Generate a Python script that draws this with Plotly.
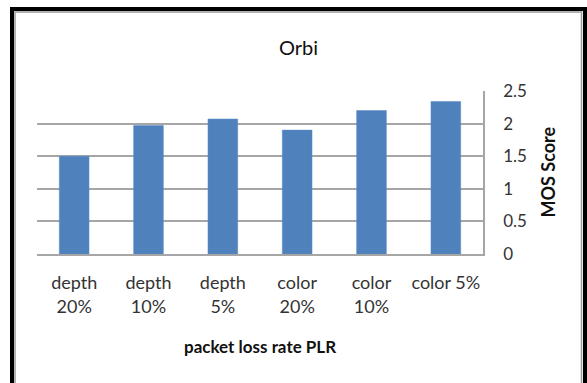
import plotly.graph_objects as go

# MOS score per packet-loss condition
categories = ["depth<br>20%", "depth<br>10%", "depth<br>5%", "color<br>20%", "color<br>10%", "color 5%"]
mos_scores = [1.50, 1.97, 2.07, 1.90, 2.20, 2.34]
y_ticks = [0, 0.5, 1, 1.5, 2, 2.5]
y_tick_labels = ["0", "0.5", "1", "1.5", "2", "2.5"]

W, H = 587, 383
L, R, T, B = 37, 483, 91, 254  # plot area in pixels

FONT = "Lato, Carlito, Calibri, sans-serif"
GRID = "#A6A6A6"
BAR = "#4F81BD"


def px(x):
    return (x - L) / (R - L)


def py(y):
    return (B - y) / (B - T)


fig = go.Figure(
    go.Bar(
        x=categories,
        y=mos_scores,
        marker=dict(color=BAR, line=dict(color="#5B8CC6", width=0.5)),
        width=0.4,
    )
)

fig.update_layout(
    width=W,
    height=H,
    margin=dict(l=L, r=W - R, t=T, b=H - B),
    paper_bgcolor="white",
    plot_bgcolor="white",
    showlegend=False,
    font=dict(family=FONT, color="#262626"),
    bargap=0.6,
)

fig.update_xaxes(
    type="category",
    showgrid=False,
    showline=True,
    linecolor=GRID,
    linewidth=1.5,
    ticks="",
    tickfont=dict(size=18, color="#333333"),
    ticklabelstandoff=12,
    fixedrange=True,
)

fig.update_yaxes(
    side="right",
    range=[0, 2.5],
    tickvals=y_ticks,
    ticktext=y_tick_labels,
    showgrid=True,
    gridcolor=GRID,
    gridwidth=1.5,
    showline=True,
    linecolor=GRID,
    linewidth=1.5,
    zeroline=False,
    ticks="",
    ticklabelstandoff=15,
    tickfont=dict(size=17, color="#333333"),
    fixedrange=True,
)

annotations = [
    dict(text="Orbi", x=px(298), y=py(47), xref="paper", yref="paper",
         showarrow=False, font=dict(size=20, color="#111111"),
         xanchor="center", yanchor="middle"),
    dict(text="<b>packet loss rate PLR</b>", x=px(260), y=py(346), xref="paper", yref="paper",
         showarrow=False, font=dict(size=17, color="#111111"),
         xanchor="center", yanchor="middle"),
    dict(text="<b>MOS Score</b>", x=px(547), y=py(172.5), xref="paper", yref="paper",
         showarrow=False, textangle=-90, font=dict(size=18, color="#111111"),
         xanchor="center", yanchor="middle"),
]
fig.update_layout(annotations=annotations)

shapes = [
    # outer black frame (open at the bottom edge)
    dict(type="path", xref="paper", yref="paper",
         path=f"M {px(12)} {py(400)} L {px(12)} {py(9)} L {px(585)} {py(9)} L {px(585)} {py(400)}",
         line=dict(color="black", width=4)),
    # inner grey chart-area border
    dict(type="path", xref="paper", yref="paper",
         path=f"M {px(15)} {py(400)} L {px(15)} {py(12)} L {px(581.5)} {py(12)} L {px(581.5)} {py(400)}",
         line=dict(color="#9A9A9A", width=1.5)),
]
fig.update_layout(shapes=shapes)

fig.write_html("out.html")
